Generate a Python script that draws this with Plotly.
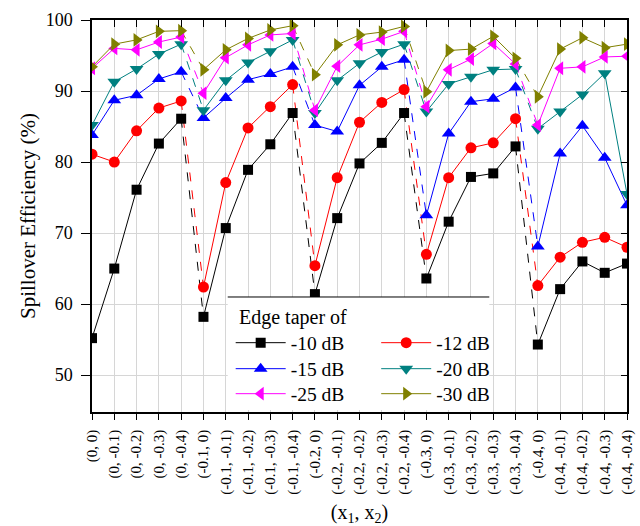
import plotly.graph_objects as go

# ---------------- data ----------------
x1_vals = ["0", "-0.1", "-0.2", "-0.3", "-0.4"]
x2_vals = ["0", "-0.1", "-0.2", "-0.3", "-0.4"]
categories = [f"({a}, {b})" for a in x1_vals for b in x2_vals]

series_names = ["-10 dB", "-12 dB", "-15 dB", "-20 dB", "-25 dB", "-30 dB"]

s10 = [55.2, 65.0, 76.1, 82.6, 86.1, 58.2, 70.7, 78.9, 82.5, 86.9, 61.4, 72.1, 79.8,
       82.7, 86.9, 63.6, 71.6, 77.9, 78.4, 82.2, 54.3, 62.1, 66.0, 64.4, 65.7]
s12 = [81.1, 80.0, 84.4, 87.6, 88.6, 62.4, 77.1, 84.8, 87.8, 90.9, 65.4, 77.8, 85.6,
       88.4, 90.2, 67.0, 77.8, 82.0, 82.7, 86.1, 62.6, 66.6, 68.7, 69.4, 68.0]
s15 = [83.8, 88.7, 89.4, 91.7, 92.7, 86.2, 89.0, 91.6, 92.4, 93.4, 85.2, 84.3, 90.8,
       93.4, 94.4, 72.5, 84.0, 88.5, 88.9, 90.5, 68.1, 81.2, 85.1, 80.6, 73.9]
s20 = [85.2, 91.3, 93.1, 95.2, 96.6, 87.3, 91.5, 94.0, 95.6, 97.2, 86.9, 91.5, 93.9,
       95.5, 96.6, 87.1, 91.0, 92.0, 93.0, 93.1, 84.7, 87.1, 89.5, 92.5, 75.5]
s25 = [93.2, 96.0, 95.8, 96.9, 97.6, 89.7, 94.7, 96.5, 97.9, 98.1, 87.3, 93.5, 96.5,
       97.3, 98.4, 87.8, 93.0, 94.5, 96.7, 93.8, 85.2, 93.2, 93.4, 94.8, 94.9]
s30 = [93.4, 96.6, 97.2, 98.4, 98.5, 93.0, 95.8, 97.4, 98.6, 99.2, 92.3, 96.5, 97.9,
       98.3, 99.1, 89.9, 95.7, 95.9, 97.7, 94.6, 89.2, 95.9, 97.5, 96.1, 96.6]

series_values = [s10, s12, s15, s20, s25, s30]
y_ticks = [50, 60, 70, 80, 90, 100]
legend_title = "Edge taper of"

# ---------------- styles ----------------
colors = ["#000000", "#FF0000", "#0000FF", "#008080", "#FF00FF", "#808000"]
symbols = ["square", "circle", "triangle-up", "triangle-down", "triangle-left", "triangle-right"]
sizes = [10, 11, 12, 12, 12, 12]
legend_ids = ["legend", "legend2", "legend3", "legend4", "legend5", "legend6"]
# legend slot positions (paper coords): two columns, three rows
leg_x = [0.2592, 0.5312, 0.2592, 0.5312, 0.2592, 0.5312]
leg_y = [0.176, 0.176, 0.1097, 0.1097, 0.0459, 0.0459]

FONT = "Liberation Serif"
idx = list(range(len(categories)))
group = len(x2_vals)
y_range = [44.8, 100]

fig = go.Figure()

# dashed transitions between x1 groups
for name, vals, col in zip(series_names, series_values, colors):
    dx, dy = [], []
    for g in range(group, len(idx), group):
        dx += [idx[g - 1], idx[g], None]
        dy += [vals[g - 1], vals[g], None]
    fig.add_trace(go.Scatter(x=dx, y=dy, mode="lines",
                             line=dict(color=col, width=1, dash="dash"),
                             showlegend=False, hoverinfo="skip"))

# solid lines + markers inside each group
for name, vals, col, sym, sz, leg in zip(series_names, series_values, colors,
                                         symbols, sizes, legend_ids):
    xs, ys = [], []
    for g in range(0, len(idx), group):
        xs += idx[g:g + group] + [None]
        ys += vals[g:g + group] + [None]
    fig.add_trace(go.Scatter(x=xs, y=ys, mode="lines+markers", name=name,
                             line=dict(color=col, width=1),
                             marker=dict(symbol=sym, size=sz, color=col),
                             legend=leg))

# invisible trace to enable mirrored axes (top/right, inside ticks)
fig.add_trace(go.Scatter(x=idx, y=s10, xaxis="x2", yaxis="y2", mode="markers",
                         marker=dict(opacity=0), showlegend=False, hoverinfo="skip"))

axis_common = dict(showline=True, linecolor="black", linewidth=1.5,
                   tickcolor="black", tickwidth=1.2)

legends = {}
for lid, lx, ly in zip(legend_ids, leg_x, leg_y):
    legends[lid] = dict(font=dict(family=FONT, size=19.5), x=lx, y=ly,
                        xanchor="left", yanchor="middle", bgcolor="rgba(0,0,0,0)",
                        itemwidth=50, tracegroupgap=0)

fig.update_layout(
    width=640, height=526,
    margin=dict(l=92, r=4, t=20, b=114),
    paper_bgcolor="white", plot_bgcolor="white",
    font=dict(family=FONT, color="black"),
    xaxis=dict(range=[0, len(idx) - 1], tickmode="array", tickvals=idx,
               ticktext=categories, tickangle=-90, ticks="outside", ticklen=6,
               ticklabelstandoff=4, ticklabeloverflow="allow",
               showgrid=True, gridcolor="#d6d6d6", gridwidth=1, zeroline=False,
               tickfont=dict(family=FONT, size=15),
               title=dict(text="(x<sub>1</sub>, x<sub>2</sub>)",
                          font=dict(family=FONT, size=20), standoff=12),
               **axis_common),
    yaxis=dict(range=y_range, tickmode="array", tickvals=y_ticks,
               ticks="outside", ticklen=9, ticklabelstandoff=5,
               showgrid=True, gridcolor="#d6d6d6",
               gridwidth=1, zeroline=False, tickfont=dict(family=FONT, size=18),
               title=dict(text="Spillover Efficiency (%)",
                          font=dict(family=FONT, size=21), standoff=4),
               **axis_common),
    xaxis2=dict(overlaying="x", side="top", anchor="y", range=[0, len(idx) - 1],
                tickmode="array", tickvals=idx, showticklabels=False,
                ticks="inside", ticklen=7, showgrid=False, zeroline=False,
                **axis_common),
    yaxis2=dict(overlaying="y", side="right", anchor="x", range=y_range,
                tickmode="array", tickvals=y_ticks, showticklabels=False,
                ticks="inside", ticklen=6, showgrid=False, zeroline=False,
                **axis_common),
    annotations=[dict(text=legend_title, xref="paper", yref="paper",
                      x=0.2702, y=0.2398, xanchor="left", yanchor="middle",
                      showarrow=False, font=dict(family=FONT, size=20))],
    shapes=[
        dict(type="rect", xref="paper", yref="paper", x0=0.2537, x1=0.7426,
             y0=0.005, y1=0.2934, fillcolor="white", line=dict(width=0), layer="above"),
        dict(type="line", xref="paper", yref="paper", x0=0.2537, x1=0.7426,
             y0=0.2934, y1=0.2934, line=dict(color="black", width=1), layer="above"),
    ],
    **legends,
)

fig.write_html("out.html")
